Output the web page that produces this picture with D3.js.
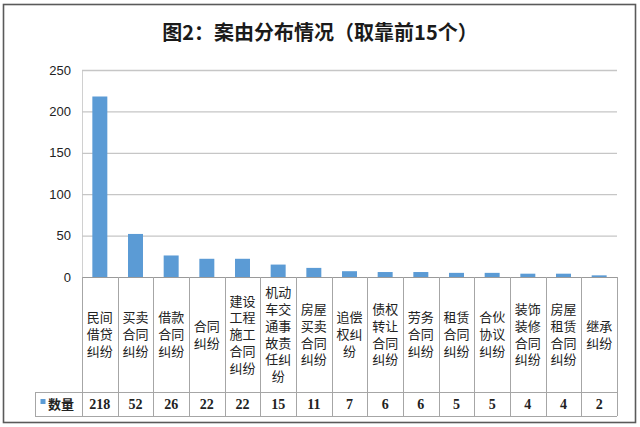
<!DOCTYPE html>
<html><head><meta charset="utf-8">
<script src="https://cdn.jsdelivr.net/npm/d3@7"></script>
<style>
html,body{margin:0;padding:0;background:#fff;}
svg{display:block;}
</style></head>
<body>
<svg id="chart" width="640" height="427"></svg>
<script>
const titleText = "图2：案由分布情况（取靠前15个）";
const categories = ["民间借贷纠纷","买卖合同纠纷","借款合同纠纷","合同纠纷","建设工程施工合同纠纷","机动车交通事故责任纠纷","房屋买卖合同纠纷","追偿权纠纷","债权转让合同纠纷","劳务合同纠纷","租赁合同纠纷","合伙协议纠纷","装饰装修合同纠纷","房屋租赁合同纠纷","继承纠纷"];
const seriesName = "数量";
const values = [218,52,26,22,22,15,11,7,6,6,5,5,4,4,2];
const yTicks = [0,50,100,150,200,250];

const svg = d3.select("#chart");
const plot = {left:82, right:617, top:70, bottom:277};
const table = {left:35, rowMid:392, bottom:416};
const cjk = "'Noto Sans CJK SC','Noto Sans',sans-serif";
const cjkLabel = "'Liberation Sans','Noto Sans CJK SC',sans-serif";

// outer frame
svg.append("rect").attr("x",3.5).attr("y",4.5).attr("width",632).attr("height",418)
  .attr("fill","#fff").attr("stroke","#5a5a5a").attr("stroke-width",1.6);

// title
svg.append("text").attr("x",320).attr("y",40).attr("text-anchor","middle")
  .attr("font-family",cjk).attr("font-weight","bold").attr("font-size",20).attr("fill","#1a1a1a")
  .text(titleText);

const x = d3.scaleBand().domain(categories).range([plot.left, plot.right]).padding(0);
const y = d3.scaleLinear().domain([0,250]).range([plot.bottom, plot.top]);

// gridlines + y axis
const yAxis = d3.axisLeft(y).tickValues(yTicks).tickSize(-(plot.right-plot.left)).tickPadding(11);
const gy = svg.append("g").attr("transform",`translate(${plot.left},0)`).call(yAxis);
gy.select(".domain").attr("stroke","#d0d0d0");
gy.selectAll(".tick line").attr("stroke","#c6c6c6").attr("stroke-width",1.3);
gy.selectAll(".tick text").attr("font-family","'Liberation Sans',Arial,sans-serif")
  .attr("font-size",13).attr("fill","#222");
gy.selectAll(".tick").filter(d=>d===0).select("line").remove();

// bars
const bw = x.bandwidth()*0.42;
svg.append("g").selectAll("rect").data(values).enter().append("rect")
  .attr("x",(d,i)=>x(categories[i])+x.bandwidth()/2-bw/2)
  .attr("y",d=>y(d))
  .attr("width",bw)
  .attr("height",d=>y(0)-y(d))
  .attr("fill","#5b9bd5");

// data table lines
const lc = "#a6a6a6";
const tg = svg.append("g").attr("stroke",lc).attr("stroke-width",1).attr("shape-rendering","crispEdges");
tg.append("line").attr("x1",plot.left).attr("x2",plot.right).attr("y1",plot.bottom+0.5).attr("y2",plot.bottom+0.5).attr("stroke","#9a9a9a");
tg.append("line").attr("x1",table.left).attr("x2",plot.right).attr("y1",table.rowMid+0.5).attr("y2",table.rowMid+0.5);
tg.append("line").attr("x1",table.left).attr("x2",plot.right).attr("y1",table.bottom+0.5).attr("y2",table.bottom+0.5);
tg.append("line").attr("x1",table.left+0.5).attr("x2",table.left+0.5).attr("y1",table.rowMid).attr("y2",table.bottom);
const edges = categories.map(c=>x(c)).concat([plot.right]);
tg.selectAll(".v").data(edges).enter().append("line")
  .attr("x1",d=>Math.round(d)+0.5).attr("x2",d=>Math.round(d)+0.5)
  .attr("y1",plot.bottom).attr("y2",table.bottom);

// category labels (2 chars per line)
const lh = 16.8;
const labG = svg.append("g").attr("font-family",cjkLabel).attr("font-size",13).attr("fill","#222").attr("text-anchor","middle");
categories.forEach(c=>{
  const lines = [];
  for(let i=0;i<c.length;i+=2) lines.push(c.slice(i,i+2));
  const cy = (plot.bottom+table.rowMid)/2;
  const start = cy - (lines.length-1)*lh/2;
  const cx = x(c)+x.bandwidth()/2;
  lines.forEach((ln,k)=>{
    labG.append("text").attr("x",cx).attr("y",start+k*lh).attr("dy","0.36em").text(ln);
  });
});

// values row
const vy = (table.rowMid+table.bottom)/2;
svg.append("g").selectAll("text").data(values).enter().append("text")
  .attr("x",(d,i)=>x(categories[i])+x.bandwidth()/2)
  .attr("y",vy).attr("dy","0.36em").attr("text-anchor","middle")
  .attr("font-family","'Liberation Serif','DejaVu Serif',serif").attr("font-weight","bold")
  .attr("font-size",14).attr("fill","#222").text(d=>d);

// legend cell
svg.append("rect").attr("x",40.5).attr("y",399).attr("width",5).attr("height",5).attr("fill","#5b9bd5");
svg.append("text").attr("x",48).attr("y",vy).attr("dy","0.36em")
  .attr("font-family",cjk).attr("font-weight","bold").attr("font-size",13).attr("fill","#222").text(seriesName);
</script>
</body></html>
